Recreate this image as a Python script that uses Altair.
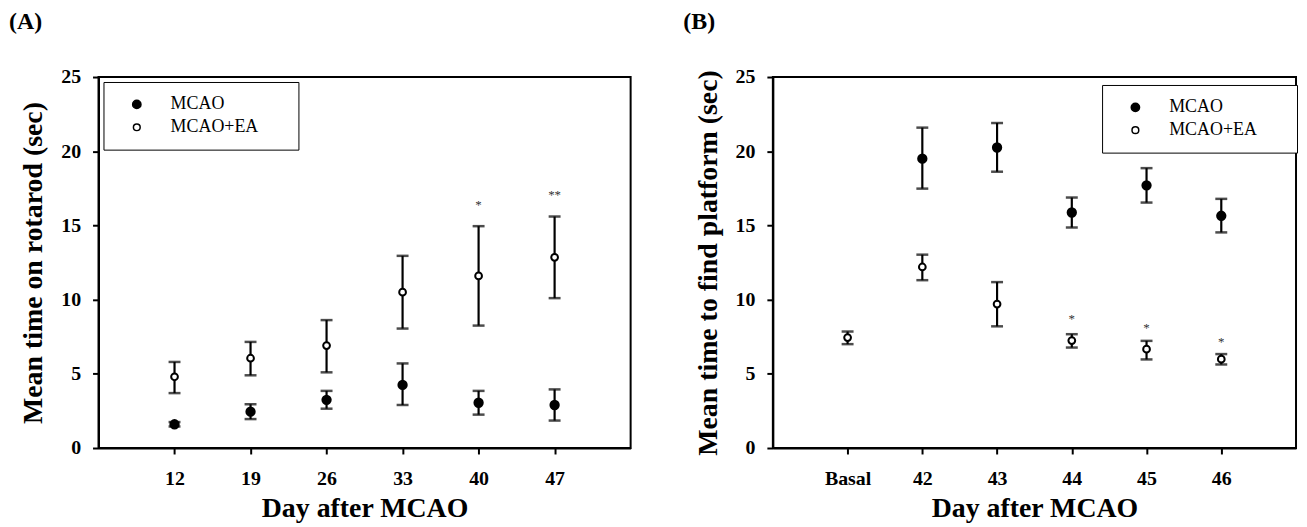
import altair as alt
import pandas as pd

# ---------------- Panel A data ----------------
A_days = ["12", "19", "26", "33", "40", "47"]
A_mcao_mean = [1.6, 2.45, 3.25, 4.25, 3.05, 2.9]
A_mcao_lo = [1.45, 1.95, 2.65, 2.9, 2.25, 1.85]
A_mcao_hi = [1.75, 2.95, 3.85, 5.7, 3.85, 3.95]
A_ea_mean = [4.8, 6.05, 6.9, 10.5, 11.6, 12.85]
A_ea_lo = [3.7, 4.9, 5.1, 8.05, 8.25, 10.1]
A_ea_hi = [5.8, 7.15, 8.62, 12.95, 14.95, 15.6]
A_star_days = ["40", "47"]
A_star_y = [16.4, 17.05]
A_star_txt = ["*", "**"]

# ---------------- Panel B data ----------------
B_days = ["Basal", "42", "43", "44", "45", "46"]
B_mcao_mean = [None, 19.5, 20.25, 15.87, 17.7, 15.65]
B_mcao_lo = [None, 17.48, 18.62, 14.86, 16.54, 14.53]
B_mcao_hi = [None, 21.59, 21.9, 16.88, 18.86, 16.79]
B_ea_mean = [7.44, 12.2, 9.7, 7.24, 6.66, 5.99]
B_ea_lo = [7.0, 11.31, 8.2, 6.77, 5.97, 5.63]
B_ea_hi = [7.85, 13.03, 11.18, 7.67, 7.22, 6.33]
B_star_days = ["44", "45", "46"]
B_star_y = [8.69, 8.11, 7.13]
B_star_txt = ["*", "*", "*"]

GROUPS = ["MCAO", "MCAO+EA"]
FONT = "Liberation Serif"
BLANK = "\u2800"  # invisible, non-trimmed filler to widen the legend box


def panel(days, mm, ml, mh, em, el, eh, sd, sy, st, ytitle, label, lx, ly, width):
    rows = []
    for d, m, lo, hi in zip(days, mm, ml, mh):
        if m is not None:
            rows.append({"day": d, "group": "MCAO", "mean": m, "lo": lo, "hi": hi})
    for d, m, lo, hi in zip(days, em, el, eh):
        if m is not None:
            rows.append({"day": d, "group": "MCAO+EA", "mean": m, "lo": lo, "hi": hi})
    df = pd.DataFrame(rows)
    stars = pd.DataFrame({"day": sd, "y": sy, "txt": st})

    xenc = alt.X("day:O", scale=alt.Scale(type="point", domain=days, padding=1),
                 axis=alt.Axis(title="Day after MCAO", labelAngle=0, labelPadding=15,
                               titlePadding=6))
    yaxis = alt.Axis(title=ytitle, values=[0, 5, 10, 15, 20, 25], labelPadding=12,
                     titlePadding=13)
    yscale = alt.Scale(domain=[0, 25], nice=False)

    leg = alt.Legend(
        title=None, orient="none", legendX=lx, legendY=ly,
        strokeColor="black", fillColor="white", padding=13.5,
        rowPadding=5, symbolType="circle",
        symbolStrokeColor="black", symbolStrokeWidth=1.5,
        symbolOffset=11, labelOffset=25,
        labelFont=FONT, labelFontSize=18, labelFontWeight="normal",
        labelColor="black",
        labelExpr="datum.label + '" + BLANK * 2 + "'")

    base = alt.Chart(df)
    rule = base.mark_rule(color="black", strokeWidth=2.2).encode(
        x=xenc, y=alt.Y("lo:Q", scale=yscale, axis=yaxis), y2="hi:Q")
    cap_lo = base.mark_tick(color="black", size=12, thickness=2.5).encode(
        x=xenc, y=alt.Y("lo:Q", scale=yscale, axis=yaxis))
    cap_hi = base.mark_tick(color="black", size=12, thickness=2.5).encode(
        x=xenc, y=alt.Y("hi:Q", scale=yscale, axis=yaxis))
    pts = base.mark_point(filled=False, strokeWidth=2, opacity=1,
                          shape="circle").encode(
        x=xenc,
        y=alt.Y("mean:Q", scale=yscale, axis=yaxis),
        fill=alt.Fill("group:N", scale=alt.Scale(domain=GROUPS, range=["black", "white"]),
                      legend=leg),
        stroke=alt.Stroke("group:N", scale=alt.Scale(domain=GROUPS, range=["black", "black"]),
                          legend=leg),
        size=alt.Size("group:N", scale=alt.Scale(domain=GROUPS, range=[70, 46]),
                      legend=leg),
    )
    txt = alt.Chart(stars).mark_text(font=FONT, fontSize=13, color="#333333",
                                     baseline="middle").encode(
        x=alt.X("day:O", scale=alt.Scale(type="point", domain=days, padding=1)),
        y=alt.Y("y:Q", scale=yscale), text="txt:N")
    return alt.layer(rule, cap_lo, cap_hi, pts, txt).properties(
        width=width, height=373, title=alt.TitleParams(label))


pA = panel(A_days, A_mcao_mean, A_mcao_lo, A_mcao_hi, A_ea_mean, A_ea_lo, A_ea_hi,
           A_star_days, A_star_y, A_star_txt, "Mean time on rotarod (sec)", "(A)",
           5, 5, 535)
pB = panel(B_days, B_mcao_mean, B_mcao_lo, B_mcao_hi, B_ea_mean, B_ea_lo, B_ea_hi,
           B_star_days, B_star_y, B_star_txt, "Mean time to find platform (sec)", "(B)",
           331, 8, 526)

chart = alt.hconcat(pA, pB, spacing=51).resolve_scale(
    fill="independent", stroke="independent", size="independent").resolve_legend(
    fill="independent", stroke="independent", size="independent").properties(
    padding={"left": 0, "top": 0, "right": 0, "bottom": 0}
).configure_axis(
    labelFont=FONT, labelFontWeight="bold", labelFontSize=20, labelColor="black",
    titleFont=FONT, titleFontWeight="bold", titleFontSize=28, titleColor="black",
    domainColor="black", domainWidth=2, tickColor="black", tickWidth=2, tickSize=6,
    grid=False
).configure_view(stroke="black", strokeWidth=2).configure_title(
    font=FONT, fontSize=24, fontWeight="bold", color="black", anchor="start",
    frame="bounds", dx=-11, offset=33
)

chart.save("out.html", embed_options={"renderer": "svg", "actions": False})
